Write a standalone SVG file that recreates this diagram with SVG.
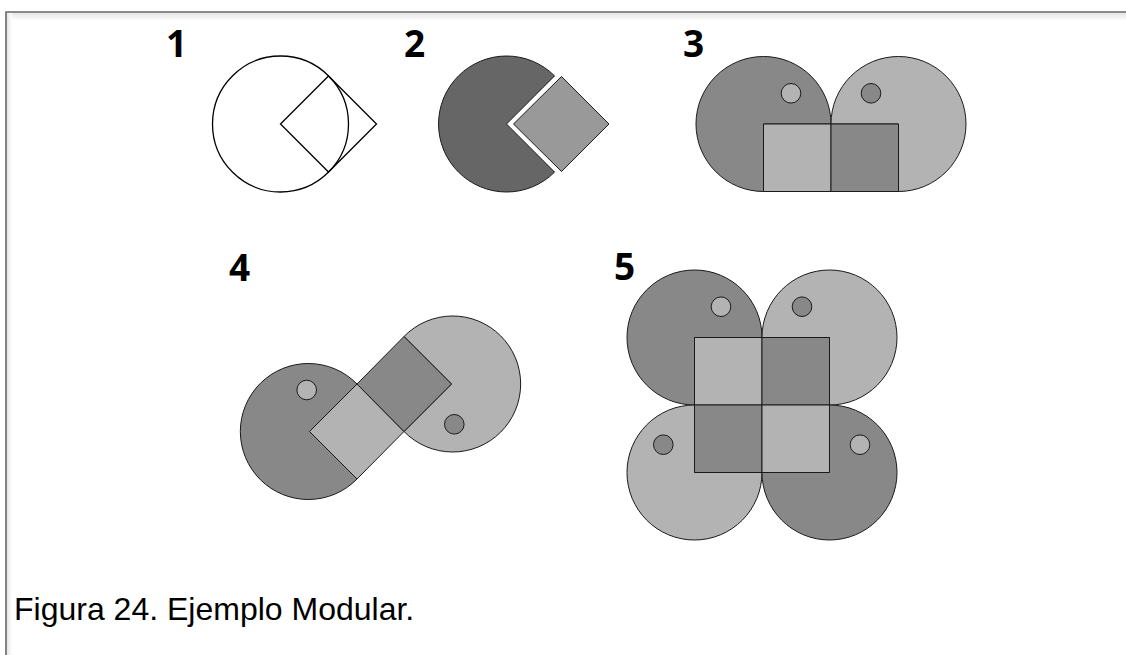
<svg xmlns="http://www.w3.org/2000/svg" width="1126" height="655" viewBox="0 0 1126 655">
<defs>
<linearGradient id="shadowTop" x1="0" y1="0" x2="0" y2="1">
<stop offset="0" stop-color="#e6e6e6"/>
<stop offset="1" stop-color="#ffffff"/>
</linearGradient>
<linearGradient id="shadowLeft" x1="0" y1="0" x2="1" y2="0">
<stop offset="0" stop-color="#e6e6e6"/>
<stop offset="1" stop-color="#ffffff"/>
</linearGradient>
</defs>
<style>
.num{font-family:"Open Sans","Noto Sans","DejaVu Sans",sans-serif;font-weight:bold;font-size:37px;fill:#000}
.cap{font-family:"Liberation Sans",Arial,sans-serif;font-size:32px;fill:#000}
.s{stroke:#1a1a1a;stroke-width:1;stroke-linejoin:round}
.dark{fill:#888888}
.light{fill:#b3b3b3}
.d2{fill:#666666}
.l2{fill:#999999}
.outline{fill:#ffffff;stroke:#000;stroke-width:1.3}
</style>
<rect x="0" y="0" width="1126" height="655" fill="#ffffff"/>
<rect x="7" y="13" width="1119" height="8" fill="url(#shadowTop)"/>
<rect x="7" y="13" width="5" height="642" fill="url(#shadowLeft)"/>
<path d="M6 655 V12 H1126" fill="none" stroke="#666" stroke-width="1.6"/>

<g id="fig1">
<text class="num" x="166" y="57">1</text>
<circle class="outline" cx="280.5" cy="124" r="68"/>
<polygon class="outline" fill="none" style="fill:none" points="280.5,124 328.5,76 376.5,124 328.5,172"/>
</g>

<g id="fig2">
<text class="num" x="404" y="57">2</text>
<path class="s d2" d="M506.5 124 L554.6 75.9 A68 68 0 1 0 554.6 172.1 Z"/>
<polygon class="s l2" points="513.5,124 561.5,76.5 609,124 561.5,171.5"/>
</g>

<g id="fig3">
<text class="num" x="683" y="57">3</text>
<path class="s dark" d="M763.5 124 L831 124 A67.5 67.5 0 1 0 763.5 191.5 Z"/>
<path class="s light" d="M898.5 124 L898.5 191.5 A67.5 67.5 0 1 0 831 124 Z"/>
<rect class="s light" x="763.5" y="124" width="67.5" height="67.5"/>
<rect class="s dark" x="831" y="124" width="67.5" height="67.5"/>
<circle class="s light" cx="791" cy="93.3" r="9.8"/>
<circle class="s dark" cx="871" cy="93.3" r="9.8"/>
</g>

<g id="fig4">
<text class="num" x="229" y="281">4</text>
<path class="s dark" d="M309.5 431.5 L357 384 A68 68 0 1 0 357 479 Z"/>
<path class="s light" d="M451.5 384 L404 431.5 A68 68 0 1 0 404 336.5 Z"/>
<polygon class="s light" points="309.5,431.5 357,384 404,431.5 357,479"/>
<polygon class="s dark" points="451.5,384 404,336.5 357,384 404,431.5"/>
<circle class="s light" cx="306.7" cy="390" r="9.8"/>
<circle class="s dark" cx="454.3" cy="424.3" r="9.8"/>
</g>

<g id="fig5">
<text class="num" x="614" y="280">5</text>
<path class="s dark" d="M694.5 337.5 L762 337.5 A67.5 67.5 0 1 0 694.5 405 Z"/>
<path class="s light" d="M829.5 337.5 L829.5 405 A67.5 67.5 0 1 0 762 337.5 Z"/>
<path class="s light" d="M694.5 472.5 L694.5 405 A67.5 67.5 0 1 0 762 472.5 Z"/>
<path class="s dark" d="M829.5 472.5 L762 472.5 A67.5 67.5 0 1 0 829.5 405 Z"/>
<rect class="s light" x="694.5" y="337.5" width="67.5" height="67.5"/>
<rect class="s dark" x="762" y="337.5" width="67.5" height="67.5"/>
<rect class="s dark" x="694.5" y="405" width="67.5" height="67.5"/>
<rect class="s light" x="762" y="405" width="67.5" height="67.5"/>
<circle class="s light" cx="721" cy="306.7" r="9.8"/>
<circle class="s dark" cx="802" cy="306.7" r="9.8"/>
<circle class="s dark" cx="663.3" cy="444.7" r="9.8"/>
<circle class="s light" cx="860" cy="444.7" r="9.8"/>
</g>

<g id="connectors"></g>

<text id="caption" class="cap" x="14" y="620">Figura 24. Ejemplo Modular.</text>
</svg>
